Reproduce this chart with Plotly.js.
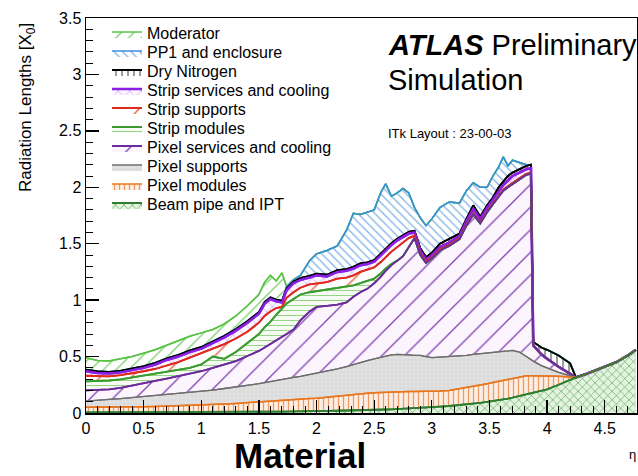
<!DOCTYPE html>
<html><head><meta charset="utf-8">
<script src="https://cdn.plot.ly/plotly-3.0.1.min.js"></script>
<style>html,body{margin:0;padding:0;background:#fff}</style>
</head><body><div id="chart" style="width:638px;height:476px"></div>
<script>
// pseudorapidity grid
const eta = [0,0.1,0.2,0.3,0.4,0.5,0.6,0.7,0.8,0.9,
 1.0,1.1,1.2,1.3,1.4,1.5,
 1.55,1.6,1.65,1.7,1.74,
 1.8,1.86,1.94,
 2.0,2.09,2.18,2.26,2.32,2.38,2.44,
 2.5,2.56,2.6,2.65,2.7,2.75,2.8,2.85,2.9,2.95,
 3.0,3.07,3.15,3.24,3.3,3.36,3.42,3.48,
 3.53,3.58,3.62,3.66,3.7,3.76,3.82,3.86,3.88,3.95,
 4.0,4.1,4.2,4.25,4.35,4.5,4.6,4.7,4.77];

// cumulative (stacked) upper edge of each component, in radiation lengths X0
const beamPipe = [0.006,0.006,0.006,0.006,0.006,0.007,0.007,0.007,0.008,0.008,
 0.008,0.009,0.009,0.010,0.010,0.011,
 0.011,0.012,0.012,0.013,0.013,
 0.014,0.015,0.016,
 0.017,0.018,0.020,0.021,0.022,0.024,0.025,
 0.027,0.029,0.031,0.033,0.035,0.037,0.040,0.042,0.045,0.048,
 0.051,0.056,0.062,0.070,0.076,0.083,0.090,0.098,
 0.105,0.113,0.120,0.128,0.136,0.150,0.163,0.172,0.177,0.195,
 0.21,0.25,0.295,0.315,0.35,0.41,0.45,0.51,0.56];

const pixelModules = [0.05,0.05,0.051,0.052,0.053,0.055,0.057,0.06,0.062,0.065,
 0.07,0.075,0.08,0.085,0.092,0.1,
 0.104,0.108,0.112,0.116,0.118,
 0.122,0.125,0.128,
 0.13,0.14,0.15,0.16,0.165,0.17,0.175,
 0.18,0.183,0.185,0.187,0.188,0.19,0.19,0.19,0.19,0.19,
 0.19,0.195,0.2,0.215,0.225,0.235,0.245,0.26,
 0.27,0.28,0.29,0.3,0.31,0.32,0.33,0.33,0.33,0.33,
 0.33,0.325,0.32,0.315,0.35,0.41,0.45,0.51,0.56];

const pixelSupports = [0.105,0.11,0.12,0.128,0.137,0.145,0.153,0.162,0.172,0.181,
 0.19,0.203,0.217,0.23,0.245,0.26,
 0.27,0.28,0.29,0.3,0.305,
 0.315,0.325,0.34,
 0.35,0.37,0.39,0.41,0.43,0.45,0.465,
 0.48,0.495,0.505,0.515,0.52,0.52,0.515,0.51,0.51,0.5,
 0.49,0.495,0.5,0.505,0.51,0.52,0.525,0.53,
 0.535,0.54,0.545,0.55,0.555,0.54,0.5,0.47,0.46,0.42,
 0.4,0.36,0.33,0.315,0.35,0.41,0.45,0.51,0.56];

const pixelServices = [0.2,0.205,0.21,0.222,0.245,0.265,0.285,0.305,0.325,0.345,
 0.37,0.4,0.43,0.46,0.505,0.55,
 0.58,0.61,0.64,0.67,0.7,
 0.74,0.82,0.9,
 0.94,0.95,0.96,0.98,1.03,1.07,1.1,
 1.15,1.21,1.26,1.31,1.35,1.39,1.47,1.55,1.4,1.33,
 1.37,1.44,1.48,1.54,1.66,1.76,1.68,1.78,
 1.85,1.92,1.97,2.0,2.03,2.07,2.11,2.12,0.6,0.52,
 0.48,0.41,0.35,0.315,0.35,0.41,0.45,0.51,0.56];

const stripModules = [0.28,0.283,0.288,0.298,0.315,0.335,0.35,0.365,0.38,0.4,
 0.43,0.5,0.48,0.54,0.62,0.7,
 0.76,0.81,0.87,0.93,0.97,
 1.01,1.05,1.07,
 1.08,1.09,1.11,1.12,1.13,1.15,1.17,
 1.19,1.24,1.28,1.32,1.35,1.39,1.47,1.55,1.4,1.33,
 1.37,1.44,1.48,1.54,1.66,1.76,1.68,1.78,
 1.85,1.92,1.97,2.0,2.03,2.07,2.11,2.12,0.6,0.52,
 0.48,0.41,0.35,0.315,0.35,0.41,0.45,0.51,0.56];

const stripSupports = [0.33,0.325,0.325,0.335,0.35,0.37,0.39,0.42,0.45,0.49,
 0.53,0.57,0.61,0.66,0.72,0.8,
 0.86,0.9,0.93,0.94,1.02,
 1.07,1.11,1.14,
 1.15,1.16,1.19,1.2,1.22,1.25,1.27,
 1.29,1.34,1.38,1.43,1.47,1.51,1.55,1.57,1.41,1.345,
 1.38,1.45,1.49,1.55,1.67,1.77,1.69,1.79,
 1.86,1.93,1.98,2.01,2.04,2.08,2.12,2.13,0.6,0.52,
 0.48,0.41,0.35,0.315,0.35,0.41,0.45,0.51,0.56];

const stripServices = [0.37,0.355,0.35,0.36,0.38,0.4,0.43,0.47,0.5,0.54,
 0.57,0.62,0.67,0.73,0.8,0.88,
 0.97,1.01,0.99,0.98,1.09,
 1.15,1.18,1.2,
 1.22,1.21,1.25,1.26,1.28,1.31,1.32,
 1.34,1.4,1.44,1.49,1.53,1.56,1.59,1.6,1.44,1.36,
 1.4,1.47,1.51,1.57,1.7,1.81,1.72,1.82,
 1.89,1.97,2.02,2.06,2.1,2.13,2.16,2.17,0.6,0.52,
 0.48,0.41,0.35,0.315,0.35,0.41,0.45,0.51,0.56];

const dryNitrogen = [0.385,0.37,0.365,0.375,0.395,0.415,0.445,0.485,0.515,0.555,
 0.585,0.635,0.685,0.745,0.815,0.895,
 0.985,1.025,1.005,0.995,1.105,
 1.165,1.195,1.215,
 1.235,1.225,1.265,1.275,1.295,1.325,1.335,
 1.355,1.415,1.455,1.505,1.545,1.575,1.605,1.615,1.46,1.38,
 1.42,1.5,1.54,1.59,1.72,1.84,1.74,1.84,
 1.91,2.0,2.05,2.1,2.13,2.16,2.19,2.2,0.63,0.58,
 0.56,0.51,0.44,0.315,0.35,0.41,0.45,0.51,0.56];

const pp1Enclosure = [0.385,0.37,0.365,0.375,0.395,0.415,0.445,0.485,0.515,0.555,
 0.585,0.635,0.685,0.745,0.815,0.895,
 0.985,1.025,1.005,0.995,1.12,
 1.18,1.22,1.35,
 1.41,1.44,1.48,1.62,1.77,1.76,1.78,
 1.8,1.96,2.03,1.92,1.95,1.99,1.95,1.82,1.73,1.66,
 1.72,1.82,1.87,1.86,1.97,2.04,2.0,2.0,
 2.1,2.18,2.27,2.19,2.24,2.22,2.2,2.2,0.63,0.58,
 0.56,0.51,0.44,0.315,0.35,0.41,0.45,0.51,0.56];

const moderator = [0.49,0.465,0.46,0.48,0.5,0.53,0.56,0.6,0.64,0.68,
 0.71,0.74,0.79,0.86,0.95,1.05,
 1.16,1.22,1.17,1.24,1.12,
 1.18,1.22,1.35,
 1.41,1.44,1.48,1.62,1.77,1.76,1.78,
 1.8,1.96,2.03,1.92,1.95,1.99,1.95,1.82,1.73,1.66,
 1.72,1.82,1.87,1.86,1.97,2.04,2.0,2.0,
 2.1,2.18,2.27,2.19,2.24,2.22,2.2,2.2,0.63,0.58,
 0.56,0.51,0.44,0.315,0.35,0.41,0.45,0.51,0.56];

// bottom-to-top stacking order
const layers = [
 {name:'Beam pipe and IPT', y:beamPipe, line:'#2f7d2f', lw:1.8, shape:'x', fg:'#3f9a3f', bg:'#e4f3e0', size:6, sol:0.18},
 {name:'Pixel modules', y:pixelModules, line:'#e8761e', lw:1.5, shape:'|', fg:'#ef9a66', bg:'#fdeee3', size:5, sol:0.25},
 {name:'Pixel supports', y:pixelSupports, line:'#6e6e6e', lw:1.3, shape:'+', fg:'#d2d2d2', bg:'#e2e2e2', size:4, sol:0.25},
 {name:'Pixel services and cooling', y:pixelServices, line:'#6c2c9c', lw:1.8, shape:'/', fg:'#7d40b4', bg:'#fdf5fd', size:16, sol:0.08},
 {name:'Strip modules', y:stripModules, line:'#3a9c2e', lw:1.8, shape:'-', fg:'#96d486', bg:'#f6fbf4', size:5, sol:0.2},
 {name:'Strip supports', y:stripSupports, line:'#e02a1e', lw:1.8, shape:'/', fg:'#ea6a4a', bg:'#ffffff', size:22, sol:0.07},
 {name:'Strip services and cooling', y:stripServices, line:'#8b1fe6', lw:2.5, shape:'x', fg:'#b57cf0', bg:'#fbf6ff', size:8, sol:0.12},
 {name:'Dry Nitrogen', y:dryNitrogen, line:'#000000', lw:1.8, shape:'|', fg:'#222222', bg:'#ffffff', size:6, sol:0.15},
 {name:'PP1 and enclosure', y:pp1Enclosure, line:'#3c8fe4', lw:1.5, shape:'\\', fg:'#7fb0e6', bg:'#ffffff', size:6, sol:0.2},
 {name:'Moderator', y:moderator, line:'#58c444', lw:1.5, shape:'/', fg:'#80d070', bg:'#ffffff', size:9, sol:0.15}
];

const traces = [];
layers.forEach((L, i) => {
  traces.push({
    type:'scatter', mode:'lines', x:eta, y:L.y,
    name:'<span style="font-size:16px">' + L.name + '</span>',
    fill: i === 0 ? 'tozeroy' : 'tonexty',
    fillcolor: L.bg,
    fillpattern:{shape:L.shape, fgcolor:L.fg, bgcolor:L.bg, size:L.size, solidity:L.sol, fillmode:'replace'},
    line:{color:L.line, width:L.lw},
    hoverinfo:'skip'
  });
});
// outlines: upper layers first so the lower histograms' outlines sit on top (as in a ROOT THStack)
for (let i = layers.length - 1; i >= 0; i--) {
  const L = layers[i];
  traces.push({type:'scatter', mode:'lines', x:eta, y:L.y, showlegend:false,
    line:{color:L.line, width:L.lw}, hoverinfo:'skip'});
}

const FONT = 'Liberation Sans, Arial, Helvetica, sans-serif';
const plotTop = 18, plotBottom = 413, plotLeft = 86, plotRight = 637;
const px2x = p => (p - plotLeft) / (plotRight - plotLeft);
const py2y = p => (plotBottom - p) / (plotBottom - plotTop);

const axisCommon = {
  showgrid:false, zeroline:false, showline:true, linecolor:'#000', linewidth:1.5, mirror:true,
  ticks:'inside', ticklen:13, tickwidth:1.3, tickcolor:'#000',
  minor:{ticks:'inside', ticklen:7, tickwidth:1, tickcolor:'#000', dtick:0.1},
  tickfont:{family:FONT, size:16, color:'#000'}, tick0:0, dtick:0.5
};

const layout = {
  width:638, height:476,
  margin:{l:plotLeft, r:638-plotRight, t:plotTop, b:476-plotBottom, pad:0},
  paper_bgcolor:'#fff', plot_bgcolor:'#fff',
  font:{family:FONT, color:'#000'},
  showlegend:true,
  legend:{x:px2x(107), y:py2y(19.5), xanchor:'left', yanchor:'top', traceorder:'reversed',
    bgcolor:'rgba(0,0,0,0)', borderwidth:0, font:{family:FONT, size:12, color:'#000'}, itemwidth:30},
  xaxis:Object.assign({}, axisCommon, {range:[0,4.78]}),
  yaxis:Object.assign({}, axisCommon, {range:[0,3.5]}),
  annotations:[
    {xref:'paper', yref:'paper', x:px2x(386), y:py2y(45), xanchor:'left', yanchor:'middle', showarrow:false,
     text:'<b><i>ATLAS</i></b> Preliminary', font:{family:FONT, size:29, color:'#000'}},
    {xref:'paper', yref:'paper', x:px2x(386), y:py2y(80), xanchor:'left', yanchor:'middle', showarrow:false,
     text:'Simulation', font:{family:FONT, size:29, color:'#000'}},
    {xref:'paper', yref:'paper', x:px2x(386), y:py2y(133), xanchor:'left', yanchor:'middle', showarrow:false,
     text:'ITk Layout : 23-00-03', font:{family:FONT, size:13, color:'#000'}},
    {xref:'paper', yref:'paper', x:px2x(300), y:py2y(456), xanchor:'center', yanchor:'middle', showarrow:false,
     text:'<b>Material</b>', font:{family:FONT, size:35, color:'#000'}},
    {xref:'paper', yref:'paper', x:px2x(632), y:py2y(455), xanchor:'center', yanchor:'middle', showarrow:false,
     text:'η', font:{family:FONT, size:13, color:'#000'}},
    {xref:'paper', yref:'paper', x:px2x(27), y:py2y(108), xanchor:'center', yanchor:'middle', showarrow:false,
     textangle:-90, text:'Radiation Lengths [X<sub>0</sub>]', font:{family:FONT, size:17, color:'#000'}}
  ]
};

Plotly.newPlot('chart', traces, layout, {displayModeBar:false, staticPlot:true});
</script>
</body></html>
